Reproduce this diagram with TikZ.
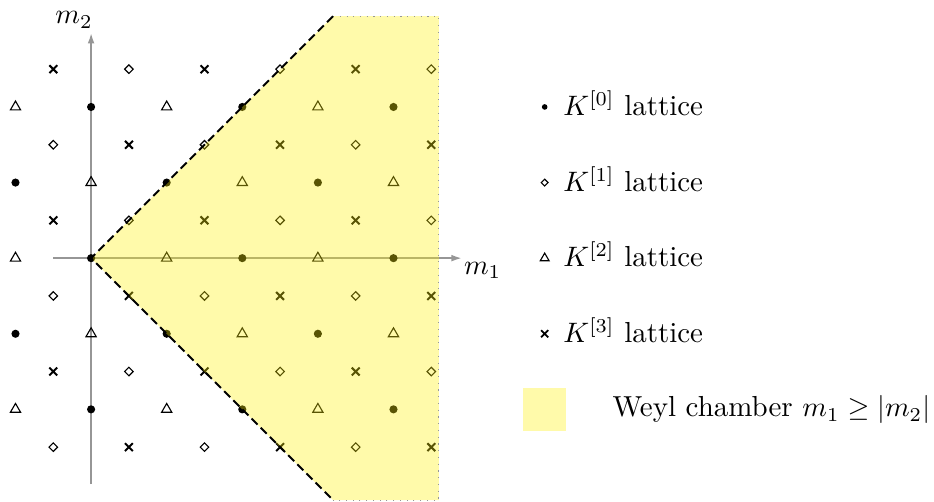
\documentclass[tikz,border=0pt]{standalone}
\usetikzlibrary{shapes.geometric,shapes.misc,arrows.meta}
\definecolor{chamberyellow}{RGB}{255,241,12}
\definecolor{axisgray}{RGB}{150,150,150}
\tikzset{
  dotmark/.style={circle,fill=black,inner sep=0pt,minimum size=2.9pt},
  trimark/.style={regular polygon,regular polygon sides=3,draw=black,line width=0.4pt,inner sep=0pt,minimum size=4.2pt},
  diamark/.style={diamond,draw=black,line width=0.4pt,inner sep=0pt,minimum size=3.2pt},
  crossmark/.style={cross out,draw=black,line width=0.7pt,inner sep=0pt,minimum size=2.1pt},
  ldotmark/.style={circle,fill=black,inner sep=0pt,minimum size=2pt},
  ltrimark/.style={regular polygon,regular polygon sides=3,draw=black,line width=0.4pt,inner sep=0pt,minimum size=3.6pt},
  ldiamark/.style={diamond,draw=black,line width=0.4pt,inner sep=0pt,minimum size=2.6pt},
  lcrossmark/.style={cross out,draw=black,line width=0.65pt,inner sep=0pt,minimum size=1.9pt},
  axisline/.style={draw=axisgray,line width=0.5pt,-{Latex[length=3.6pt,width=2.4pt]}},
  chamberfill/.style={fill=chamberyellow,fill opacity=0.35,draw=none},
  walldash/.style={draw=black,line width=0.7pt,dash pattern=on 3pt off 1.6pt},
  walldot/.style={draw=axisgray,line width=0.4pt,dotted},
  legtext/.style={anchor=base west,inner sep=0pt,font=\fontsize{10.3pt}{12.5pt}\selectfont},
  axlabel/.style={font=\fontsize{10.3pt}{12.5pt}\selectfont},
}
\begin{document}
\begin{tikzpicture}[x=0.4725cm,y=0.4725cm]
\useasboundingbox (-2.41,-6.43) rectangle (22.3,6.83);
% axes
\coordinate (xs) at (-1,0);
\coordinate (xe) at (9.8,0);
\coordinate (ys) at (0,-5.98);
\coordinate (ye) at (0,5.95);
\draw[axisline] (xs) -- (xe);
\draw[axisline] (ys) -- (ye);
\node[axlabel] (m1lab) at (10.36,-0.33) {$m_1$};
\node[axlabel] (m2lab) at (-0.45,6.3) {$m_2$};
% lattice points
\foreach \i in {-2,...,9}{
  \foreach \j in {-5,...,5}{
    \pgfmathtruncatemacro{\pp}{mod(\i+\j+20,2)}
    \ifnum\pp=0
      \pgfmathtruncatemacro{\hh}{mod((\i+\j+20)/2,2)}
      \pgfmathtruncatemacro{\ii}{mod(\i+20,2)}
      \ifnum\ii=0
        \ifnum\hh=0
          \node[dotmark] (p-\i-\j) at (\i,\j) {};
        \else
          \node[trimark] (p-\i-\j) at (\i,\j) {};
        \fi
      \else
        \ifnum\hh=1
          \node[diamark] (p-\i-\j) at (\i,\j) {};
        \else
          \node[crossmark] (p-\i-\j) at (\i,\j) {};
        \fi
      \fi
    \fi
  }
}
% Weyl chamber
\coordinate (o) at (0,0);
\coordinate (tl) at (6.4,6.4);
\coordinate (tr) at (9.2,6.4);
\coordinate (br) at (9.2,-6.4);
\coordinate (bl) at (6.4,-6.4);
\fill[chamberfill] (o) -- (tl) -- (tr) -- (br) -- (bl) -- cycle;
\draw[walldot] (tl) -- (tr) -- (br) -- (bl);
\draw[walldash] (tl) -- (o) -- (bl);
% legend
\node[ldotmark] (l0) at (12,4) {};
\node[legtext] (t0) at (12.48,3.77) {$K^{[0]}$ lattice};
\node[ldiamark] (l1) at (12,2) {};
\node[legtext] (t1) at (12.48,1.77) {$K^{[1]}$ lattice};
\node[ltrimark] (l2) at (12,0) {};
\node[legtext] (t2) at (12.48,-0.23) {$K^{[2]}$ lattice};
\node[lcrossmark] (l3) at (12,-2) {};
\node[legtext] (t3) at (12.48,-2.23) {$K^{[3]}$ lattice};
\node[chamberfill,minimum size=1.14*0.4725cm,inner sep=0pt] (l4) at (12,-4) {};
\node[legtext] (t4) at (13.78,-4.2) {Weyl chamber $m_1 \geq |m_2|$};
\end{tikzpicture}
\end{document}
